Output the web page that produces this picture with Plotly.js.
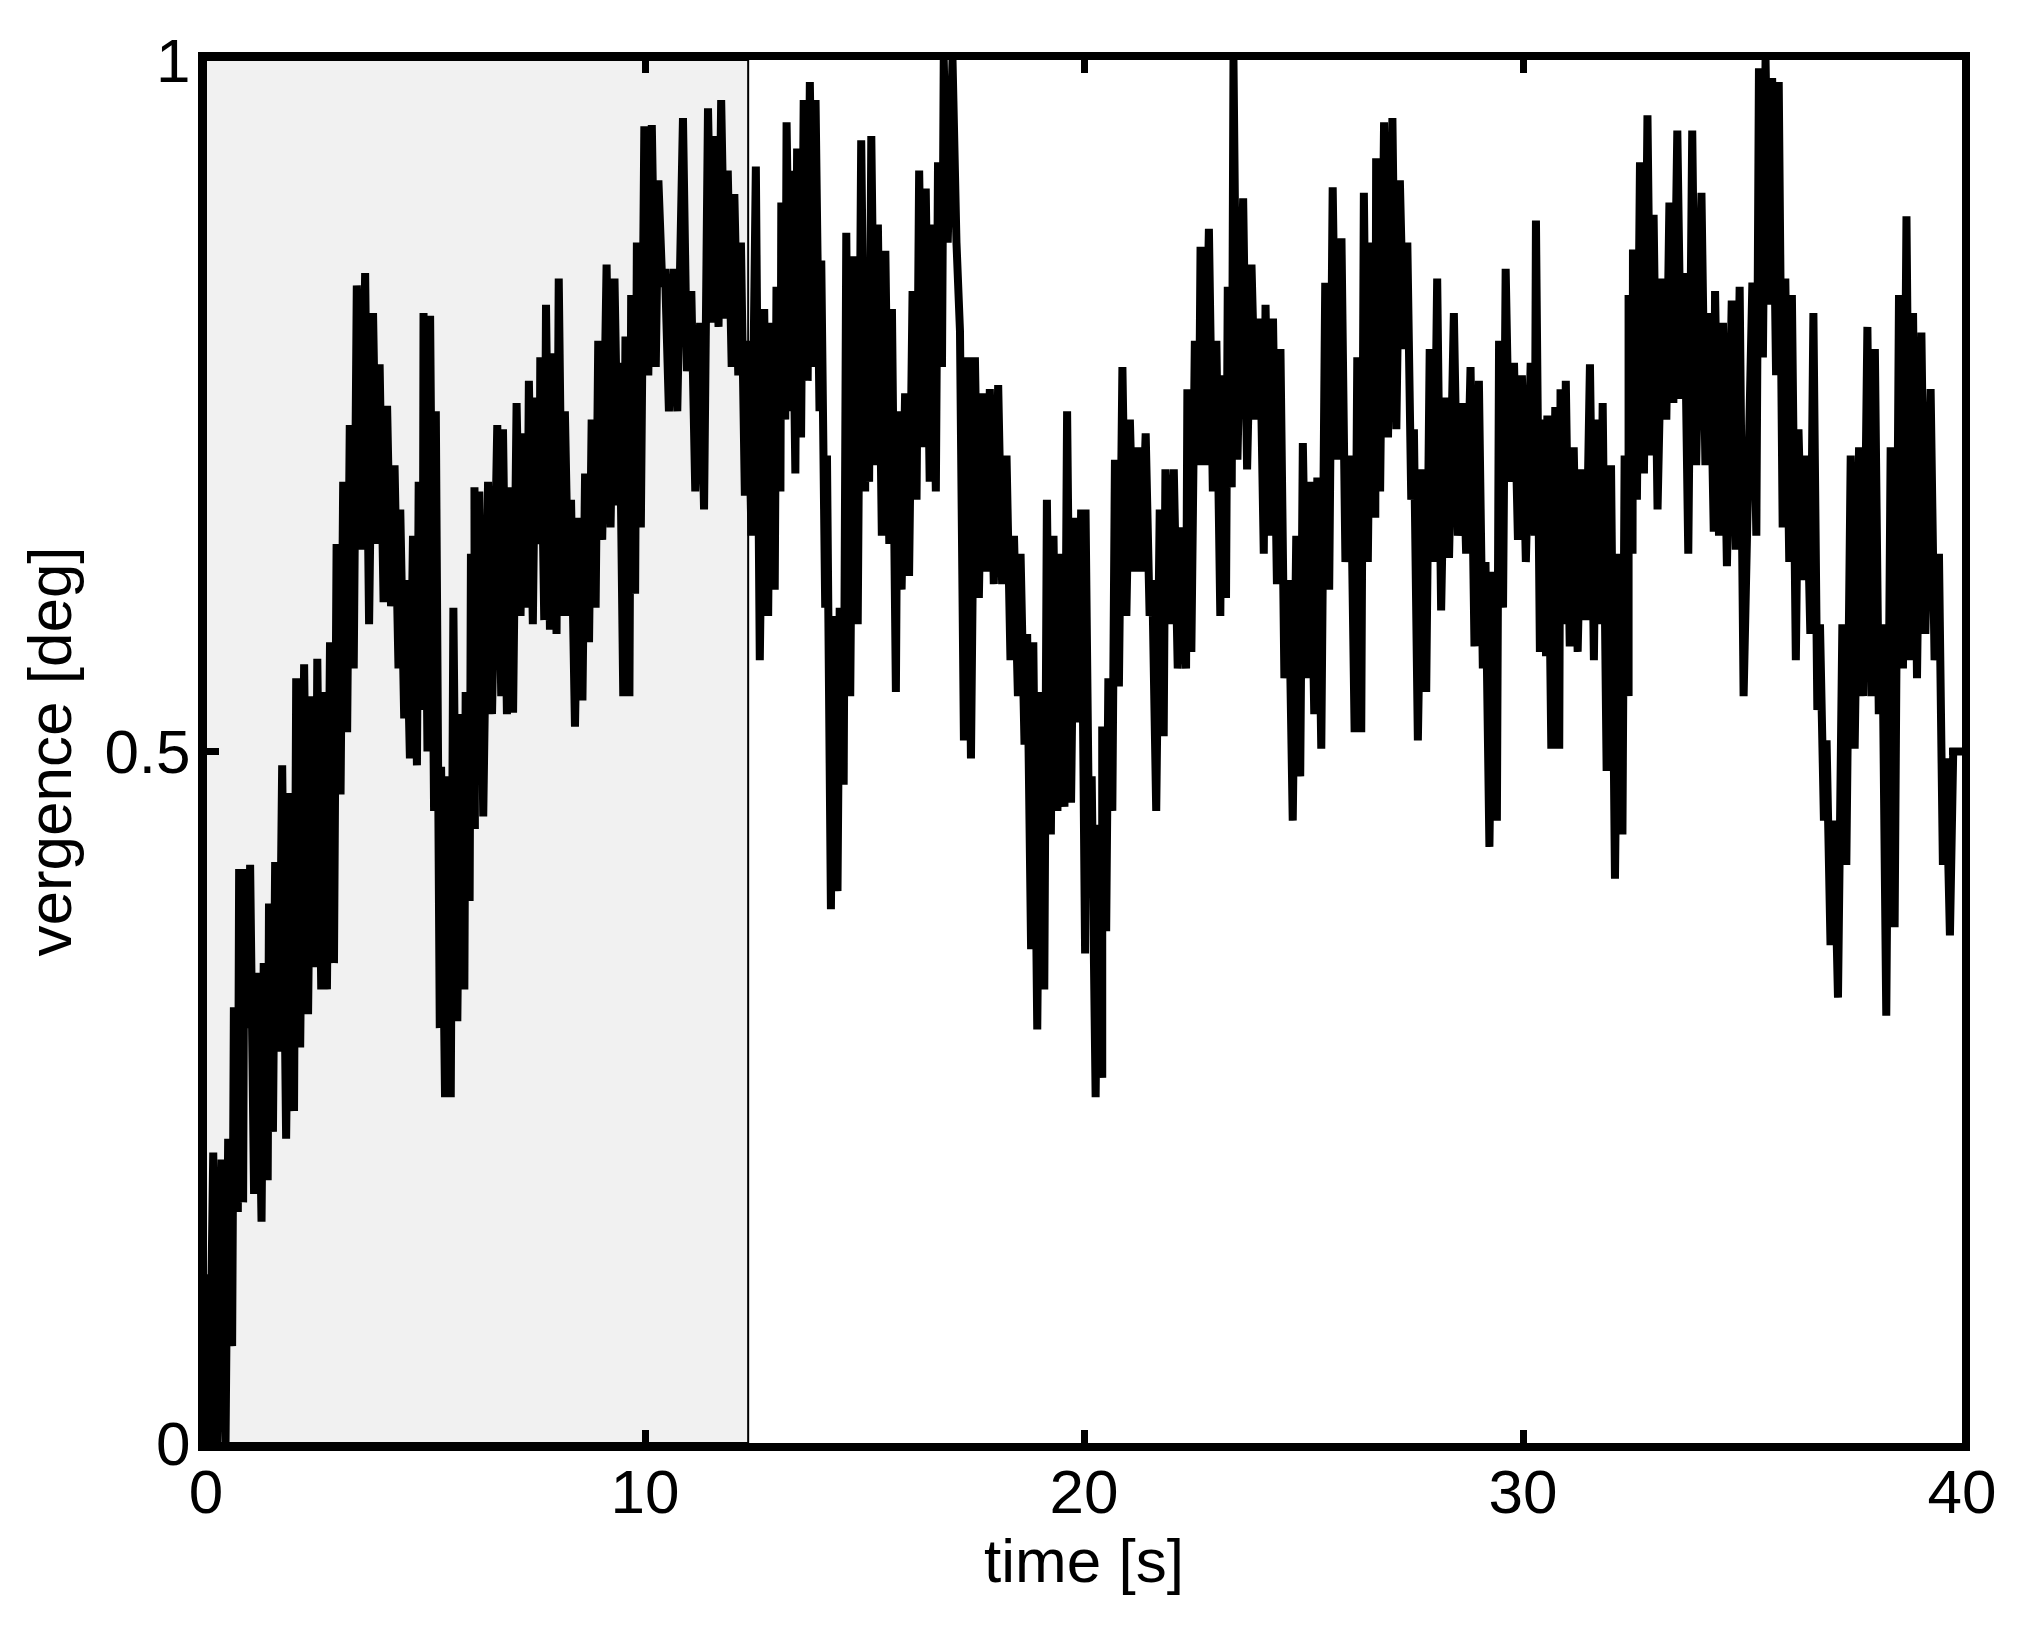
<!DOCTYPE html>
<html>
<head>
<meta charset="utf-8">
<script src="https://cdn.plot.ly/plotly-3.0.1.min.js"></script>
<style>html,body{margin:0;padding:0;background:#fff;}#chart{width:2030px;height:1637px;}</style>
</head>
<body>
<div id="chart"></div>
<script>
// Envelope readings of the trace: time [s] of each short window, highest and lowest vergence [deg] in it
const timeS = [0.03,0.21,0.40,0.55,0.68,0.80,0.92,1.05,1.22,1.36,1.48,1.62,1.78,1.96,2.10,2.28,2.45,2.58,2.71,2.87,3.02,3.17,3.32,3.48,3.67,3.85,4.00,4.17,4.34,4.47,4.60,4.76,4.89,5.00,
5.15,5.28,5.40,5.53,5.68,5.84,5.96,6.08,6.16,6.27,6.47,6.68,6.81,6.95,7.12,7.27,7.40,7.55,7.66,7.79,7.94,8.08,8.22,8.36,8.53,8.68,8.83,8.98,9.17,9.35,9.46,9.60,9.73,9.86,10.03,
10.20,10.35,10.50,10.69,10.91,11.10,11.30,11.48,11.63,11.78,11.93,12.08,12.23,12.38,12.57,12.76,12.91,13.04,13.15,13.27,13.38,13.51,13.66,13.80,13.93,14.06,14.19,14.34,14.48,14.63,14.80,14.97,
15.06,15.20,15.35,15.52,15.67,15.80,15.97,16.14,16.29,16.44,16.58,16.72,16.85,17.05,17.22,17.38,17.56,17.73,17.90,18.09,18.28,18.45,18.60,18.75,18.89,19.05,19.20,19.35,19.51,19.66,19.83,19.98,
20.08,20.22,20.37,20.46,20.60,20.75,20.92,21.09,21.26,21.45,21.60,21.77,21.90,22.09,22.28,22.40,22.57,22.70,22.89,23.06,23.19,23.32,23.45,23.67,23.86,24.05,24.18,24.35,24.52,24.71,24.88,25.03,
25.20,25.36,25.54,25.71,25.91,26.12,26.27,26.42,26.59,26.70,26.88,27.07,27.24,27.41,27.56,27.75,27.92,28.09,28.27,28.47,28.66,28.85,29.04,29.19,29.36,29.50,29.65,29.84,30.02,
30.22,30.34,30.48,30.60,30.78,30.90,31.02,31.20,31.38,31.57,31.72,31.86,32.05,32.22,32.36,32.45,32.55,32.71,32.88,33.02,33.22,33.38,33.56,33.72,33.90,34.11,34.30,34.42,34.60,34.80,34.98,
35.27,35.42,35.57,35.72,35.87,36.02,36.17,36.32,36.50,36.66,36.81,36.96,37.13,37.32,37.51,37.70,37.89,38.06,38.23,38.42,38.61,38.78,38.93,39.12,39.33,39.52,39.68];
const upper = [0.122,0.21,0.205,0.22,0.315,0.415,0.415,0.418,0.34,0.347,0.39,0.42,0.49,0.47,0.553,0.563,0.54,0.567,0.543,0.579,0.65,0.695,0.736,0.837,0.846,0.817,0.78,0.75,0.707,0.675,0.624,0.656,0.695,0.817,
0.815,0.746,0.489,0.482,0.604,0.527,0.543,0.643,0.691,0.688,0.695,0.736,0.733,0.691,0.752,0.73,0.768,0.756,0.785,0.823,0.788,0.842,0.746,0.682,0.669,0.701,0.74,0.797,0.852,0.842,0.781,0.8,0.83,0.868,0.952,
0.953,0.913,0.849,0.849,0.958,0.833,0.81,0.965,0.945,0.971,0.92,0.903,0.868,0.797,0.923,0.82,0.81,0.836,0.897,0.955,0.92,0.936,0.971,0.984,0.971,0.855,0.714,0.598,0.604,0.875,0.858,0.942,
0.797,0.945,0.881,0.862,0.82,0.746,0.759,0.833,0.92,0.907,0.881,0.926,1.0,1.0,0.804,0.785,0.785,0.759,0.762,0.765,0.714,0.656,0.643,0.585,0.579,0.543,0.682,0.656,0.643,0.746,0.669,0.675,
0.675,0.482,0.447,0.518,0.553,0.711,0.778,0.74,0.72,0.73,0.624,0.675,0.704,0.704,0.662,0.762,0.797,0.865,0.878,0.797,0.772,0.836,1.0,0.9,0.852,0.813,0.823,0.813,0.791,0.624,0.656,0.723,
0.695,0.698,0.839,0.908,0.871,0.714,0.785,0.904,0.868,0.929,0.955,0.958,0.913,0.868,0.733,0.704,0.791,0.842,0.756,0.817,0.752,0.778,0.768,0.637,0.63,0.797,0.849,0.781,0.772,
0.781,0.884,0.74,0.743,0.749,0.762,0.768,0.72,0.704,0.78,0.74,0.752,0.707,0.643,0.714,0.83,0.863,0.926,0.96,0.888,0.842,0.897,0.949,0.846,0.949,0.904,0.817,0.833,0.81,0.826,0.836,
0.839,0.994,1.0,0.987,0.984,0.842,0.83,0.733,0.714,0.817,0.592,0.508,0.45,0.592,0.714,0.72,0.807,0.791,0.592,0.72,0.83,0.887,0.817,0.803,0.762,0.643,0.495];
const lower = [0.0,0.0,0.0,0.07,0.167,0.174,0.30,0.18,0.16,0.19,0.225,0.283,0.22,0.24,0.286,0.31,0.344,0.328,0.328,0.347,0.469,0.514,0.56,0.646,0.592,0.65,0.608,0.605,0.56,0.524,0.495,0.49,0.53,0.50,
0.457,0.30,0.25,0.25,0.305,0.328,0.392,0.444,0.5,0.453,0.527,0.54,0.527,0.528,0.598,0.604,0.592,0.65,0.595,0.588,0.585,0.598,0.598,0.518,0.537,0.579,0.604,0.653,0.662,0.678,0.54,0.54,0.614,0.662,0.772,
0.778,0.836,0.746,0.746,0.775,0.688,0.675,0.81,0.807,0.813,0.778,0.772,0.685,0.656,0.566,0.598,0.617,0.688,0.74,0.746,0.701,0.727,0.768,0.778,0.746,0.604,0.386,0.399,0.476,0.54,0.592,0.688,
0.695,0.707,0.656,0.65,0.543,0.617,0.627,0.682,0.72,0.695,0.688,0.778,0.868,0.868,0.508,0.495,0.611,0.63,0.621,0.621,0.566,0.54,0.505,0.357,0.299,0.328,0.44,0.457,0.46,0.463,0.521,0.354,
0.405,0.25,0.264,0.37,0.457,0.547,0.598,0.63,0.63,0.598,0.457,0.511,0.592,0.56,0.56,0.572,0.707,0.707,0.688,0.598,0.611,0.691,0.711,0.704,0.74,0.643,0.656,0.621,0.553,0.45,0.482,0.553,
0.527,0.502,0.617,0.711,0.637,0.514,0.514,0.637,0.669,0.688,0.727,0.733,0.791,0.682,0.508,0.543,0.637,0.602,0.64,0.656,0.643,0.576,0.56,0.431,0.45,0.604,0.695,0.653,0.637,
0.656,0.572,0.569,0.502,0.502,0.592,0.576,0.572,0.595,0.566,0.592,0.486,0.408,0.44,0.54,0.643,0.682,0.701,0.714,0.675,0.74,0.752,0.755,0.643,0.707,0.707,0.659,0.656,0.634,0.646,0.54,
0.656,0.785,0.823,0.772,0.662,0.637,0.566,0.624,0.585,0.53,0.45,0.36,0.322,0.418,0.502,0.54,0.54,0.527,0.309,0.373,0.56,0.566,0.553,0.585,0.566,0.418,0.367];
// Final flat stretch at the end of the record
const endTime = [39.80, 40.0];
const endValue = [0.50, 0.50];
// Shaded interval and axis ticks
const shadeEnd = 12.35;
const xTicks = [0, 10, 20, 30, 40];
const yTicks = [0, 0.5, 1];
const yTickText = ['0', '0.5', '1'];

const xs = [0], ys = [0];
for (let i = 0; i < timeS.length; i++) {
  xs.push(timeS[i] - 0.045, timeS[i] + 0.045);
  ys.push(upper[i], lower[i]);
}
for (let i = 0; i < endTime.length; i++) { xs.push(endTime[i]); ys.push(endValue[i]); }

const font = {family: '"Liberation Sans", Arial, Helvetica, sans-serif', size: 62, color: '#000'};

const trace = {
  x: xs, y: ys, type: 'scatter', mode: 'lines',
  line: {color: '#000', width: 8},
  hoverinfo: 'skip'
};

const layout = {
  width: 2030, height: 1637,
  margin: {l: 206, r: 68, t: 60, b: 194},
  paper_bgcolor: '#fff', plot_bgcolor: '#fff',
  showlegend: false,
  font: font,
  xaxis: {
    range: [0, 40], tickvals: xTicks, ticktext: xTicks.map(String),
    showgrid: false, zeroline: false,
    showline: true, linewidth: 8, linecolor: '#000', mirror: 'ticks',
    ticks: 'inside', ticklen: 13, tickwidth: 7, tickcolor: '#000',
    tickfont: font, ticklabelstandoff: -12,
    title: {text: 'time [s]', font: font, standoff: 4}
  },
  yaxis: {
    range: [0, 1], tickvals: yTicks, ticktext: yTickText,
    showgrid: false, zeroline: false,
    showline: true, linewidth: 8, linecolor: '#000', mirror: 'ticks',
    ticks: 'inside', ticklen: 13, tickwidth: 7, tickcolor: '#000',
    tickfont: font, ticklabelstandoff: -5,
    title: {text: 'vergence [deg]', font: font, standoff: 16}
  },
  shapes: [{
    type: 'rect', xref: 'x', yref: 'y', x0: 0, x1: shadeEnd, y0: 0, y1: 1,
    fillcolor: '#f1f1f1', line: {color: '#000', width: 2}, layer: 'below'
  }]
};

Plotly.newPlot('chart', [trace], layout, {staticPlot: true, displayModeBar: false});
</script>
</body>
</html>
